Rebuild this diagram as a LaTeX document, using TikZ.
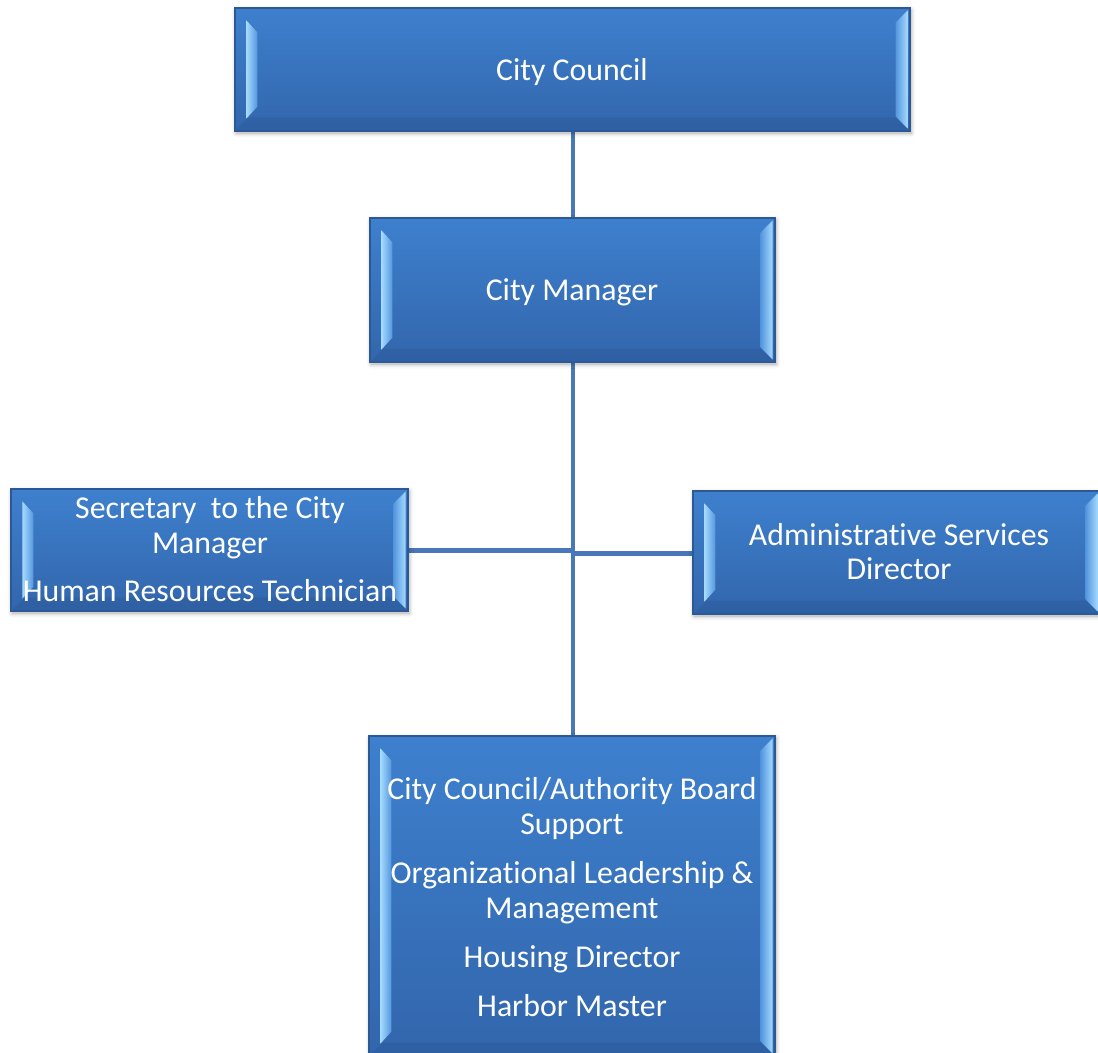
\documentclass[tikz,border=0pt]{standalone}
\usepackage{fontspec}
\setmainfont{Carlito}[Ligatures=NoCommon]
\usetikzlibrary{calc,fit,shadows.blur}

\definecolor{bodytop}{RGB}{62,128,206}
\definecolor{bodybot}{RGB}{50,102,172}
\definecolor{edge}{RGB}{44,88,148}
\definecolor{facetlight}{RGB}{165,218,255}
\definecolor{facetmid}{RGB}{84,150,222}
\definecolor{facetdark}{RGB}{44,92,156}
\definecolor{link}{RGB}{72,120,185}

\tikzset{
  boxbody/.style={inner sep=0pt, draw=edge, line width=0.7pt,
    top color=bodytop, bottom color=bodybot,
    blur shadow={shadow xshift=0.6pt, shadow yshift=-1.2pt,
      shadow blur radius=2.5pt, shadow opacity=35}},
  boxtext/.style={text=white, align=center, inner sep=0pt,
    font=\fontsize{18.1pt}{19.9pt}\selectfont},
  conn/.style={draw=link, line width=2.8pt},
}

% a bevelled box: name, x0, y0, x1, y1 (pixel-like units, y downwards)
\newcommand\orgbox[5]{%
  \node[boxbody, fit={(#2,#3)(#4,#5)}] (#1) {};
  \fill[facetdark, opacity=0.55]
    (#1.south west) -- (#1.south east) -- ($(#1.south east)+(-14,-14)$)
    -- ($(#1.south west)+(14,-14)$) -- cycle;
  \shade[left color=facetlight, right color=facetmid]
    ($(#1.north west)+(12,13)$) -- ($(#1.north west)+(23,25)$)
    -- ($(#1.south west)+(23,-25)$) -- ($(#1.south west)+(12,-13)$) -- cycle;
  \shade[left color=facetmid, right color=facetlight]
    ($(#1.north east)+(-15,15)$) -- ($(#1.north east)+(-3,3)$)
    -- ($(#1.south east)+(-3,-3)$) -- ($(#1.south east)+(-15,-15)$) -- cycle;
}

\begin{document}
\begin{tikzpicture}[x=0.02cm, y=-0.02cm]
\useasboundingbox (0,0) rectangle (1098,1053);

% connectors first, boxes drawn over their ends
\coordinate (top) at (573,131);
\coordinate (mid) at (573,362);
\coordinate (bot) at (573,736);
\coordinate (jl) at (573,550.5);
\coordinate (jr) at (573,553.5);
\coordinate (secE) at (408,550.5);
\coordinate (admW) at (693,553.5);
\draw[conn] (top) -- (573,218);
\draw[conn] (mid) -- (bot);
\draw[conn] (secE) -- (jl);
\draw[conn] (jr) -- (admW);

\orgbox{cc}{235}{8}{910}{131}
\orgbox{cm}{370}{218}{775}{362}
\orgbox{sec}{11}{489}{408}{611}
\orgbox{adm}{693}{491}{1100}{614}
\orgbox{sup}{369}{736}{775}{1056}

% text blocks, each placed by the baseline of its last line
\node[boxtext, anchor=base] (cc-t) at (572,81) {City Council};
\node[boxtext, anchor=base] (cm-t) at (572,301) {City Manager};
\node[boxtext, anchor=base] (sec-t) at (210,602)
  {Secretary\ \ to the City\\Manager\\[0.28cm]Human Resources Technician};
\node[boxtext, anchor=base] (adm-t) at (899,580)
  {Administrative Services\\Director};
\node[boxtext, anchor=base] (sup-t) at (572,1016)
  {City Council/Authority Board\\Support\\[0.28cm]Organizational Leadership \&\\Management\\[0.28cm]Housing Director\\[0.28cm]Harbor Master};
\end{tikzpicture}
\end{document}
